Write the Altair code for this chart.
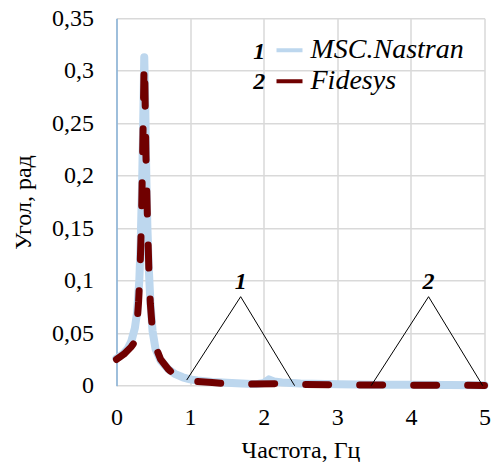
import altair as alt
import pandas as pd

# MSC.Nastran curve (frequency, Hz -> angle, rad)
nastran_freq = [0, 0.05, 0.1, 0.15, 0.2, 0.25, 0.28, 0.31, 0.33, 0.35, 0.365, 0.377,
                0.39, 0.405, 0.42, 0.44, 0.46, 0.49, 0.53, 0.6, 0.7, 0.8, 0.9, 1.0,
                1.1, 1.3, 1.5, 1.7, 1.9, 2.0, 2.07, 2.14, 2.25, 2.5, 3.0, 3.5, 4.0, 4.5, 5.0]
nastran_val = [0.026, 0.028, 0.031, 0.035, 0.042, 0.055, 0.07, 0.10, 0.14, 0.2, 0.26, 0.313,
               0.27, 0.2, 0.15, 0.11, 0.08, 0.052, 0.035, 0.024, 0.016, 0.011, 0.008, 0.006,
               0.005, 0.0035, 0.0027, 0.002, 0.0015, 0.0025, 0.006, 0.004, 0.003, 0.002,
               0.0013, 0.001, 0.0008, 0.0006, 0.0005]

# Fidesys curve
fidesys_freq = [0, 0.1, 0.2, 0.25, 0.28, 0.3, 0.32, 0.34, 0.36, 0.375, 0.385, 0.4, 0.42,
                0.44, 0.46, 0.48, 0.52, 0.56, 0.6, 0.7, 0.8, 0.9, 0.95, 1.0, 1.1, 1.3,
                1.5, 1.8, 2.2, 2.5, 3.0, 3.5, 4.0, 4.5, 5.0]
fidesys_val = [0.025, 0.03, 0.037, 0.042, 0.06, 0.08, 0.11, 0.16, 0.24, 0.307, 0.29, 0.22,
               0.16, 0.11, 0.078, 0.06, 0.045, 0.032, 0.025, 0.016, 0.0095, 0.008, 0.009,
               0.0055, 0.004, 0.003, 0.002, 0.0015, 0.002, 0.0012, 0.0008, 0.0006, 0.0005,
               0.0004, 0.0003]

series_names = ["MSC.Nastran", "Fidesys"]
series_colors = ["#BDD7EE", "#700000"]

# annotation "leader" triangles
ann_group = ["1", "1", "1", "2", "2", "2"]
ann_order = [0, 1, 2, 0, 1, 2]
ann_freq = [0.954, 1.687, 2.42, 3.46, 4.24, 4.976]
ann_val = [0.0054, 0.0848, 0.0, 0.0, 0.0848, 0.0]

ann_label = ["1", "2"]
ann_label_freq = [1.687, 4.24]
ann_label_val = [0.092, 0.092]

legend_num = ["1", "2"]
legend_num_freq = [1.94, 1.94]
legend_num_val = [0.3178, 0.2892]

x_ticks = [0, 0.5, 1, 1.5, 2, 2.5, 3, 3.5, 4, 4.5, 5]
y_ticks = [0, 0.05, 0.1, 0.15, 0.2, 0.25, 0.3, 0.35]

FONT = "Liberation Serif"

df_n = pd.DataFrame({"f": nastran_freq, "v": nastran_val, "s": series_names[0]})
df_f = pd.DataFrame({"f": fidesys_freq, "v": fidesys_val, "s": series_names[1]})
df_ann = pd.DataFrame({"g": ann_group, "o": ann_order, "f": ann_freq, "v": ann_val})
df_lab = pd.DataFrame({"t": ann_label, "f": ann_label_freq, "v": ann_label_val})
df_leg = pd.DataFrame({"t": legend_num, "f": legend_num_freq, "v": legend_num_val})

x_enc = alt.X("f:Q", scale=alt.Scale(domain=[0, 5], nice=False, zero=False),
              axis=alt.Axis(values=x_ticks, title="Частота, Гц",
                            labelExpr="datum.value % 1 == 0 ? format(datum.value, 'd') : ''",
                            grid=True, ticks=False, domain=False, labelFlush=False,
                            labelPadding=20, titlePadding=9))
y_enc = alt.Y("v:Q", scale=alt.Scale(domain=[0, 0.35], nice=False),
              axis=alt.Axis(values=y_ticks, title="Угол, рад",
                            labelExpr="replace(format(datum.value, '.2~f'), '.', ',')",
                            grid=True, ticks=False, domain=True, domainColor="#5B9BD5",
                            domainWidth=1, labelPadding=23, titlePadding=16))

color_scale = alt.Scale(domain=series_names, range=series_colors)
legend = alt.Legend(title=None, orient="none", legendX=158, legendY=17, padding=0,
                    symbolType="stroke", symbolSize=676, symbolStrokeWidth=4,
                    symbolDash=[1, 0], labelFont=FONT, labelFontStyle="italic",
                    labelFontSize=28, labelColor="black", labelOffset=6,
                    rowPadding=2)

line_n = alt.Chart(df_n).mark_line(strokeWidth=8, strokeCap="round", strokeJoin="round").encode(
    x=x_enc, y=y_enc,
    color=alt.Color("s:N", scale=color_scale, legend=legend),
)
line_f = alt.Chart(df_f).mark_line(strokeWidth=7, strokeCap="round", strokeJoin="round",
                                   strokeDash=[23, 31]).encode(
    x="f:Q", y="v:Q",
    color=alt.Color("s:N", scale=color_scale, legend=legend),
)
ann_lines = alt.Chart(df_ann).mark_line(color="black", strokeWidth=1).encode(
    x="f:Q", y="v:Q", detail="g:N", order="o:Q")
ann_text = alt.Chart(df_lab).mark_text(font=FONT, fontSize=24, fontStyle="italic",
                                       fontWeight="bold", baseline="alphabetic",
                                       align="center", color="black").encode(
    x="f:Q", y="v:Q", text="t:N")
leg_text = alt.Chart(df_leg).mark_text(font=FONT, fontSize=24, fontStyle="italic",
                                       fontWeight="bold", baseline="middle",
                                       align="center", color="black").encode(
    x="f:Q", y="v:Q", text="t:N")

chart = alt.layer(line_n, line_f, ann_lines, ann_text, leg_text).properties(
    width=368, height=367.4,
    autosize=alt.AutoSizeParams(type="none"),
    padding={"left": 108.5, "top": 10.3, "right": 6.5, "bottom": 76.3},
).configure_view(stroke=None).configure_axis(
    gridColor="#D9D9D9", gridWidth=1.5, labelFont=FONT, labelFontSize=24,
    labelColor="black", titleFont=FONT, titleFontSize=24, titleFontWeight="normal",
    titleColor="black",
)

chart.save("out.html", embed_options={"renderer": "svg", "actions": False})
